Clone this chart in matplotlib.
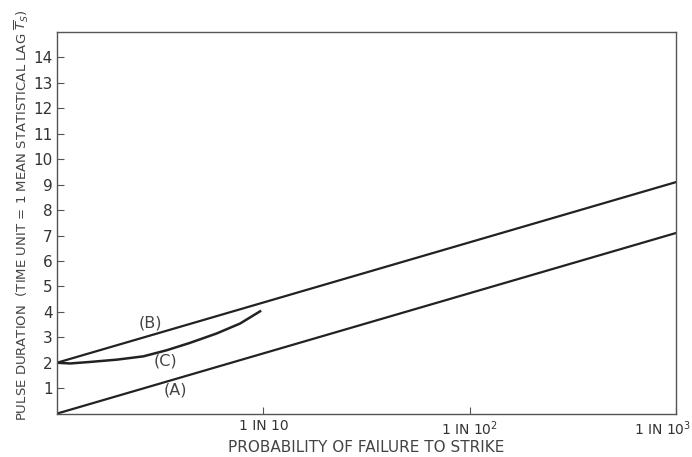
import matplotlib
matplotlib.use("Agg")
import matplotlib.pyplot as plt
import matplotlib.transforms as mtransforms

# data (x = N in "1 in N", y = pulse duration)
a_x = [1, 1000]
a_y = [0.0, 7.1]
b_x = [1, 1000]
b_y = [2.0, 9.1]
c_x = [1.0, 1.156, 1.445, 1.95, 2.62, 3.40, 4.41, 5.94, 7.71, 9.64]
c_y = [2.0, 1.97, 2.03, 2.12, 2.25, 2.49, 2.78, 3.15, 3.54, 4.02]

x_ticks = [10, 100, 1000]
x_ticklabels = ["1 IN 10", "1 IN 10$^2$", "1 IN 10$^3$"]
y_ticks = list(range(1, 15))

plt.rcParams["font.family"] = ["DejaVu Sans"]
ink = "#222222"
txt = "#444444"

fig = plt.figure(figsize=(6.92, 4.57), dpi=100)
ax = fig.add_axes([0.0824, 0.095, 0.8946, 0.835])

ax.plot(a_x, a_y, color=ink, lw=1.6)
ax.plot(b_x, b_y, color=ink, lw=1.6)
ax.plot(c_x, c_y, color=ink, lw=1.8)

ax.text(2.82, 3.55, "(B)", ha="center", va="center", fontsize=11.5, color=txt)
ax.text(3.34, 2.07, "(C)", ha="center", va="center", fontsize=11.5, color=txt)
ax.text(3.73, 0.92, "(A)", ha="center", va="center", fontsize=11.5, color=txt)

ax.set_xscale("log")
ax.set_xlim(1, 1000)
ax.set_ylim(0, 15)
ax.set_xticks(x_ticks)
ax.set_xticklabels(x_ticklabels)
ax.xaxis.set_minor_locator(matplotlib.ticker.NullLocator())
ax.set_yticks(y_ticks)
ax.tick_params(direction="in", length=5, width=0.8, colors="#555555",
               labelcolor="#333333", labelsize=11)
ax.tick_params(axis="x", pad=4, labelsize=10)
ax.tick_params(axis="y", pad=3)

# last x label sits a little left of its tick, as in the reference
last = ax.get_xticklabels()[-1]
last.set_transform(last.get_transform() + mtransforms.ScaledTranslation(-13 / 100, 0, fig.dpi_scale_trans))

for s in ax.spines.values():
    s.set_color("#555555")
    s.set_linewidth(1.0)

ax.set_xlabel("PROBABILITY OF FAILURE TO STRIKE", fontsize=11, color=txt, va="center")
ax.xaxis.set_label_coords(0.5, -0.088)
ax.set_ylabel(r"PULSE DURATION  (TIME UNIT = 1 MEAN STATISTICAL LAG $\overline{T}_S$)",
              fontsize=9.5, color=txt, va="center")
ax.yaxis.set_label_coords(-0.0565, 0.52)

fig.savefig("out.png", dpi=100)
